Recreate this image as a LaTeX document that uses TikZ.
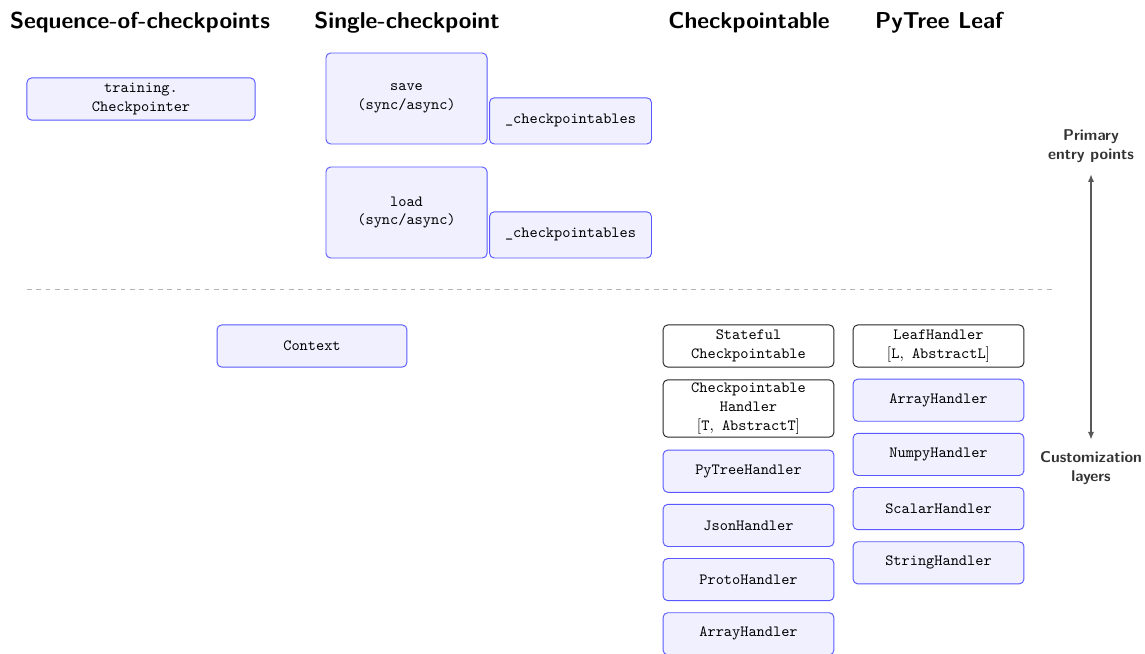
\documentclass[tikz,border=0pt]{standalone}
\usepackage{tikz}
\usetikzlibrary{arrows.meta}
\tikzset{
box/.style={
  draw=blue!65,
  fill=blue!6,
  semithick,
  rounded corners=3pt,
  align=center,
  font=\ttfamily,
  minimum width=3.85cm,
  minimum height=0.95cm,
  inner sep=2pt
},
plainbox/.style={box,draw=black!85,fill=white},
head/.style={font=\fontsize{14.75}{18}\sffamily\bfseries,anchor=base},
side/.style={font=\normalsize\sffamily\bfseries,text=black!80,align=center},
%layer/.style={draw=gray!60,dashed},
}
\newcommand{\rmbit}[1]{{\rmfamily #1}}

\begin{document}
\begin{tikzpicture}[x=0.02253cm,y=-0.02253cm]
\useasboundingbox (0,0) rectangle (1145,654);
% the column titles
\node[head] (hseq) at (140,29) {Sequence-of-checkpoints};
\node[head] (hsingle) at (407,29) {Single-checkpoint};
\node[head] (hckpt) at (749,29) {Checkpointable};
\node[head] (hleaf) at (939,29) {PyTree Leaf};

% the entry points
\node[box,minimum width=5.14cm] (trainer) at (141,99) {training.\\Checkpointer};
\node[box,minimum width=3.63cm,minimum height=2.05cm] (save) at (406.5,98.5) {save\\(sync/async)};
\node[box,minimum width=3.65cm,minimum height=1.04cm,anchor=south west] (savec)
  at ([xshift=1pt]save.south east) {\_checkpointables};
\node[box,minimum width=3.63cm,minimum height=2.05cm] (load) at (406.5,212.5) {load\\(sync/async)};
\node[box,minimum width=3.65cm,minimum height=1.04cm,anchor=south west] (loadc)
  at ([xshift=1pt]load.south east) {\_checkpointables};

% the separation
\coordinate (sepl) at (27,289);
\coordinate (sepr) at (1053,289);
\draw[gray!60,dashed] (sepl) -- (sepr);

% the customization layers
\node[box,minimum width=4.28cm] (ctx) at (312,346) {Context};
\node[plainbox] (stateful) at (748.5,346) {Stateful\\Checkpointable};
\node[plainbox] (ckhandler) at (748.5,408.5) {Checkpointable\\Handler\\\rmbit{[}T\rmbit{,} AbstractT\rmbit{]}};
\foreach \name [count=\i] in {PyTreeHandler,JsonHandler,ProtoHandler,ArrayHandler}
{
  \node[box] (ck-\i) at (748.5,417+54.2*\i) {\name};
}
\node[plainbox] (leafhandler) at (938.5,346) {LeafHandler\\\rmbit{[}L\rmbit{,} AbstractL\rmbit{]}};
\foreach \name [count=\i] in {ArrayHandler,NumpyHandler,ScalarHandler,StringHandler}
{
  \node[box] (leaf-\i) at (938.5,346+54.2*\i) {\name};
}

% the legend arrow
\node[side] (entry) at (1091,146) {Primary\\entry points};
\node[side] (custom) at (1091,468) {Customization\\layers};
\draw[black!65,line width=1.2pt,{Latex[length=5pt,width=4pt]}-{Latex[length=5pt,width=4pt]},
  shorten >=4pt,shorten <=4pt] (entry) -- (custom);
\end{tikzpicture}
\end{document}
